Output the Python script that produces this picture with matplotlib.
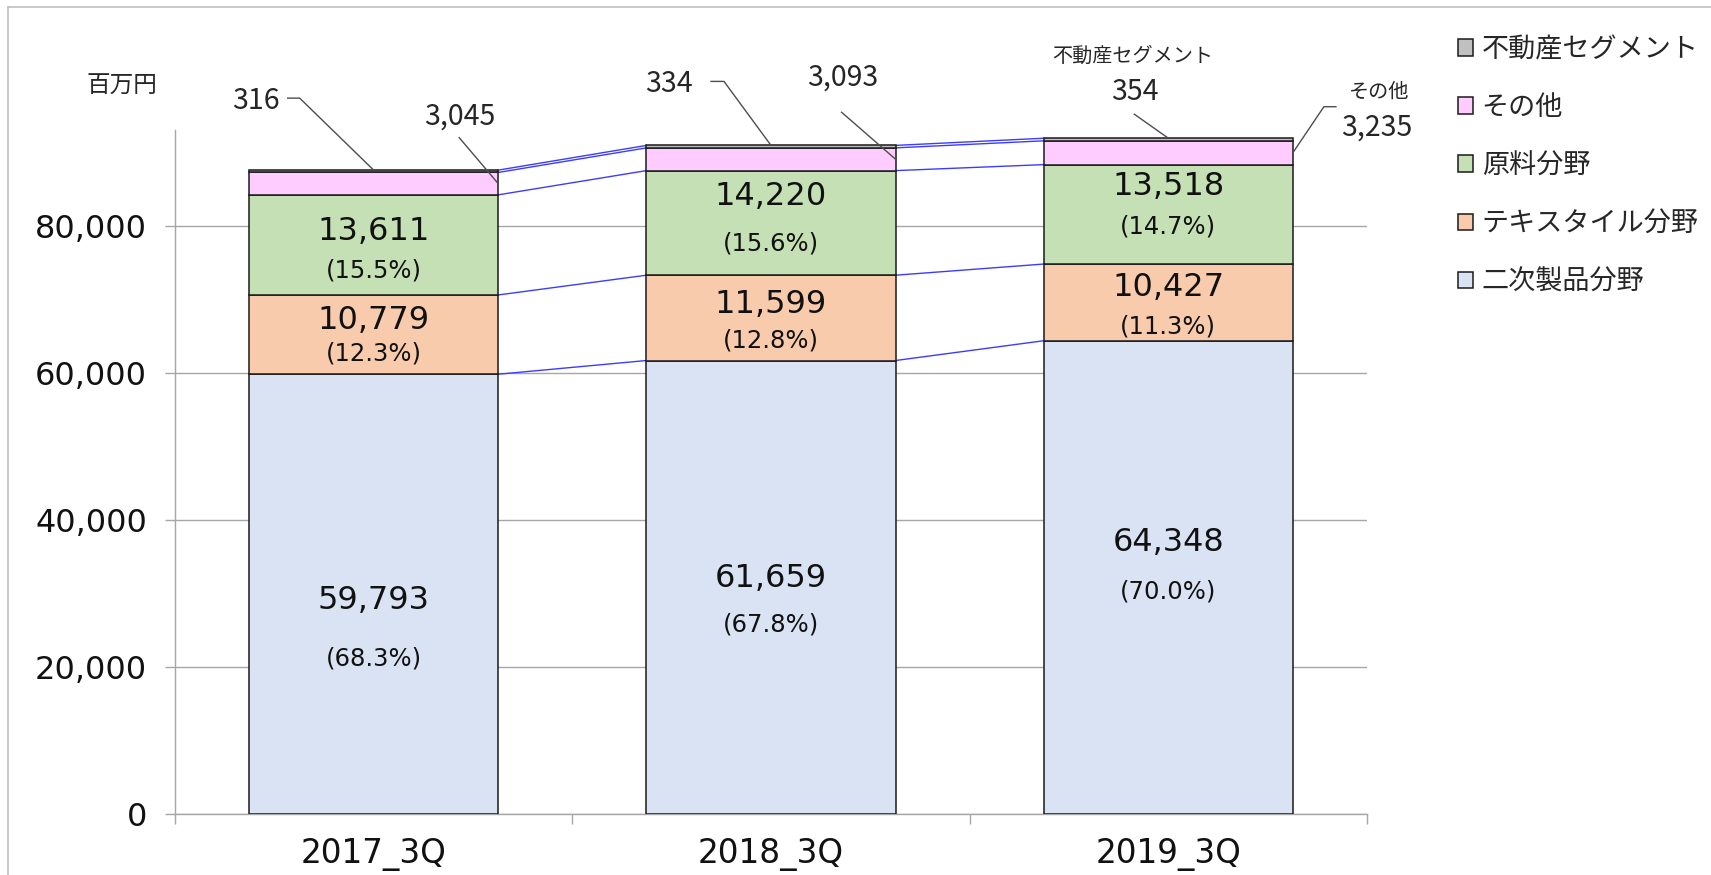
import numpy as np
import matplotlib
matplotlib.use('Agg')
import matplotlib.pyplot as plt
from matplotlib.lines import Line2D
from matplotlib.ticker import FuncFormatter
from matplotlib.transforms import IdentityTransform

plt.rcParams['font.family'] = ['DejaVu Sans', 'Noto Sans CJK JP']
JP = ['Noto Sans CJK JP', 'DejaVu Sans']

# data (百万円)
quarters = ['2017_3Q', '2018_3Q', '2019_3Q']
segments = ['二次製品分野', 'テキスタイル分野', '原料分野', 'その他', '不動産セグメント']
secondary = [59793, 61659, 64348]
textile = [10779, 11599, 10427]
material = [13611, 14220, 13518]
other = [3045, 3093, 3235]
realestate = [316, 334, 354]
share_secondary = [68.3, 67.8, 70.0]
share_textile = [12.3, 12.8, 11.3]
share_material = [15.5, 15.6, 14.7]

colors = ['#DAE3F3', '#F8CBAD', '#C5E0B4', '#FFCCFF', '#C0C0C0']

# hand placed label nudges (pixels, + is down), one row per labelled segment
value_nudge = [[6, -9, -35], [-14, -13, -15], [-13, -26, -28]]
pct_nudge = [[64, 37, 14], [19, 23, 24], [26, 21, 12]]

W_PX, H_PX = 1711, 875
fig = plt.figure(figsize=(W_PX / 100, H_PX / 100), dpi=100)
ax = fig.add_axes([175 / W_PX, 1 - 814 / H_PX, 1192 / W_PX, 684 / H_PX])

width = 0.627
x = np.arange(len(quarters))
series = [secondary, textile, material, other, realestate]
bottoms = np.zeros(len(quarters))
bars = []
for vals, col, name in zip(series, colors, segments):
    b = ax.bar(x, vals, width, bottom=bottoms, color=col, edgecolor='#1a1a1a',
               linewidth=1.1, label=name, zorder=3)
    bars.append(b)
    bottoms = bottoms + np.array(vals)

# series lines between bars
tops = np.cumsum(np.array(series), axis=0)
for k in range(len(series)):
    for i in range(len(quarters) - 1):
        ax.plot([i + width / 2, i + 1 - width / 2], [tops[k, i], tops[k, i + 1]],
                color='#3c3cff', lw=1.0, zorder=2)

# value and share labels
labelled = [(secondary, share_secondary), (textile, share_textile), (material, share_material)]
base = np.zeros(len(quarters))
for k, (vals, shares) in enumerate(labelled):
    for i in range(len(quarters)):
        mid = base[i] + vals[i] / 2
        ax.annotate(f'{vals[i]:,}', (i, mid), xytext=(0, -value_nudge[k][i]),
                    textcoords='offset pixels', ha='center', va='center',
                    fontsize=23, color='#111111', zorder=5)
        ax.annotate(f'({shares[i]:.1f}%)', (i, mid), xytext=(0, -pct_nudge[k][i]),
                    textcoords='offset pixels', ha='center', va='center',
                    fontsize=17.5, color='#111111', zorder=5)
    base = base + np.array(vals)

ax.set_xlim(-0.5, 2.5)
ax.set_ylim(0, 93000)
ax.set_yticks(range(0, 80001, 20000))
ax.yaxis.set_major_formatter(FuncFormatter(lambda v, p: f'{int(v):,}'))
ax.grid(axis='y', color='#a6a6a6', lw=1.0, zorder=0)
for s in ['top', 'right']:
    ax.spines[s].set_visible(False)
for s in ['left', 'bottom']:
    ax.spines[s].set_color('#a6a6a6')
    ax.spines[s].set_linewidth(1.0)
ax.tick_params(axis='y', length=7, width=1, color='#a6a6a6', pad=13,
               labelsize=23, labelcolor='#111111')
ax.set_xticks([-0.5, 0.5, 1.5, 2.5])
ax.set_xticklabels([])
ax.set_xticks(x, minor=True)
ax.set_xticklabels(quarters, minor=True)
ax.tick_params(axis='x', which='major', length=7, width=1, color='#a6a6a6')
ax.tick_params(axis='x', which='minor', length=0, pad=17.5, labelsize=23.5,
               labelcolor='#111111')

# callouts for the thin top segments
ident = IdentityTransform()
fig.canvas.draw()


def to_px(xd, yd):
    return ax.transData.transform((xd, yd))


callouts = []
for i in range(len(quarters)):
    top = (i, tops[4, i])
    side = (i + width / 2, tops[2, i] + other[i] / 2)
    callouts.append((top, f'{realestate[i]:,}', 'top'))
    callouts.append((side, f'{other[i]:,}', 'side'))

# text offsets and leader paths (px, + is right / up)
NUM = 20.5
layout = [
    ([(-118, 69, NUM)], [(-86, 72), (-74, 72), (0, 0)]),
    ([(-38, 67, NUM)], [(-39, 46), (0, 0)]),
    ([(-102, 61, NUM)], [(-60, 64), (-47, 64), (0, 0)]),
    ([(-53, 82, NUM)], [(-54, 47), (0, 0)]),
    ([(-33, 46, NUM), (-36, 82, 14.5)], [(-34, 24), (0, 0)]),
    ([(84, 25, NUM), (86, 60, 14.5)], [(43, 46), (31, 46), (0, 0)]),
]
extra_names = {4: '不動産セグメント', 5: 'その他'}

for n, ((anchor, txt, kind), (texts, path)) in enumerate(zip(callouts, layout)):
    ax0, ay0 = to_px(*anchor)
    xs = [ax0 + dx for dx, dy in path]
    ys = [ay0 + dy for dx, dy in path]
    fig.add_artist(Line2D(xs, ys, transform=ident, color='#4d4d4d', lw=1.0))
    for j, (dx, dy, fs) in enumerate(texts):
        s = txt if j == 0 else extra_names[n]
        fig.text(ax0 + dx, ay0 + dy, s, transform=ident, ha='center', va='center',
                 fontsize=fs, family=JP, color='#262626')

fig.text(122, H_PX - 86, '百万円', transform=ident, ha='center', va='center',
         fontsize=17, family=JP, color='#262626')

leg = fig.legend(handles=bars[::-1], labels=segments[::-1], loc='upper left',
                 bbox_to_anchor=(1458 / W_PX, 1 - 36 / H_PX), frameon=False,
                 borderpad=0, borderaxespad=0, handlelength=0.57, handleheight=0.57,
                 handletextpad=0.3, labelspacing=1.15,
                 prop={'family': JP, 'size': 19.5})
for t in leg.get_texts():
    t.set_color('#262626')

# outer frame (top and left edges only visible)
fig.add_artist(Line2D([8, W_PX], [H_PX - 7, H_PX - 7], transform=ident, color='#c0c0c0', lw=1.2))
fig.add_artist(Line2D([8, 8], [0, H_PX - 7], transform=ident, color='#c0c0c0', lw=1.2))

fig.savefig('out.png', dpi=100)
